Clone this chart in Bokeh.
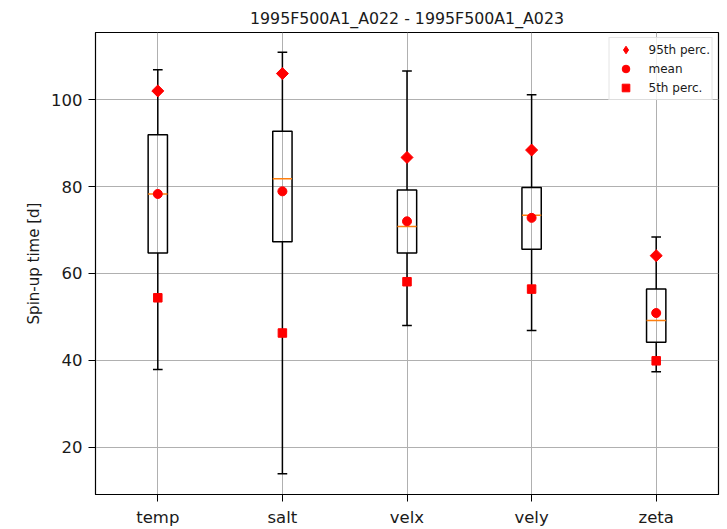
from bokeh.plotting import figure
from bokeh.models import Range1d, FixedTicker, Legend, LegendItem, ColumnDataSource
from bokeh.embed import file_html
from bokeh.resources import INLINE
import math

# ---- data ----
categories = ["temp", "salt", "velx", "vely", "zeta"]
whisker_high = [106.9, 110.9, 106.6, 101.1, 68.4]
q3 = [91.9, 92.7, 79.2, 79.8, 56.4]
median = [78.3, 81.8, 70.8, 73.4, 49.2]
q1 = [64.7, 67.3, 64.7, 65.6, 44.2]
whisker_low = [37.9, 13.9, 48.0, 46.9, 37.4]
perc95 = [102.0, 106.0, 86.7, 88.4, 64.1]
mean = [78.3, 78.9, 72.0, 72.8, 50.9]
perc5 = [54.4, 46.3, 58.1, 56.4, 39.9]
y_ticks = [20, 40, 60, 80, 100]

title = "1995F500A1_A022 - 1995F500A1_A023"
y_label = "Spin-up time [d]"

FONT = "DejaVu Sans"
box_w = 0.155
cap_w = box_w / 2

pos = list(range(1, len(categories) + 1))

p = figure(width=727, height=529, output_backend="svg", toolbar_location=None,
           x_range=Range1d(0.5, 5.5), y_range=Range1d(9.14, 115.45),
           min_border_left=95, min_border_right=9, min_border_top=32, min_border_bottom=34)

p.background_fill_color = "white"
p.border_fill_color = "white"
p.outline_line_color = "black"
p.outline_line_width = 1.2

# title
p.title.text = title
p.title.align = "center"
p.title.text_font = FONT
p.title.text_font_size = "15.8px"
p.title.text_font_style = "normal"
p.title.text_color = "#1a1a1a"
p.title.standoff = 9

# axes
for ax in (p.xaxis[0], p.yaxis[0]):
    ax.major_label_text_font = FONT
    ax.major_label_text_font_size = "16.5px"
    ax.major_label_text_color = "#1a1a1a"
    ax.major_tick_out = 7
    ax.major_tick_in = 0
    ax.minor_tick_out = 0
    ax.minor_tick_in = 0
    ax.axis_line_color = "black"
    ax.major_tick_line_color = "black"
    ax.major_label_standoff = 6

p.xaxis.ticker = FixedTicker(ticks=pos)
p.xaxis.major_label_overrides = {i: c for i, c in zip(pos, categories)}
p.yaxis.ticker = FixedTicker(ticks=y_ticks)
p.yaxis.axis_label = y_label
p.yaxis.axis_label_text_font = FONT
p.yaxis.axis_label_text_font_size = "15px"
p.yaxis.axis_label_text_font_style = "normal"
p.yaxis.axis_label_text_color = "#1a1a1a"
p.yaxis.axis_label_standoff = 5

p.xgrid.grid_line_color = "#b0b0b0"
p.ygrid.grid_line_color = "#b0b0b0"
p.xgrid.grid_line_width = 1
p.ygrid.grid_line_width = 1

src = ColumnDataSource(dict(
    x=pos, wh=whisker_high, q3=q3, med=median, q1=q1, wl=whisker_low,
    p95=perc95, mean=mean, p5=perc5,
    xl=[x - box_w / 2 for x in pos], xr=[x + box_w / 2 for x in pos],
    cl=[x - cap_w / 2 for x in pos], cr=[x + cap_w / 2 for x in pos],
))

# whiskers
p.segment(x0="x", y0="q3", x1="x", y1="wh", source=src, line_color="black", line_width=1.5)
p.segment(x0="x", y0="q1", x1="x", y1="wl", source=src, line_color="black", line_width=1.5)
# caps
p.segment(x0="cl", y0="wh", x1="cr", y1="wh", source=src, line_color="black", line_width=1.5)
p.segment(x0="cl", y0="wl", x1="cr", y1="wl", source=src, line_color="black", line_width=1.5)
# boxes
p.quad(left="xl", right="xr", top="q3", bottom="q1", source=src,
       fill_color=None, line_color="black", line_width=1.5)
# medians
p.segment(x0="xl", y0="med", x1="xr", y1="med", source=src, line_color="#ff7f0e", line_width=1.5)

# markers
# diamond used for the legend entry (fully covered in the plot by the rotated square)
r95_leg = p.scatter(x="x", y="p95", source=src, marker="diamond",
                    size=10.5, fill_color="red", line_color="red")
r95 = p.scatter(x="x", y="p95", source=src, marker="square", angle=math.pi / 4,
                size=8.5, fill_color="red", line_color="red")
rmean = p.scatter(x="x", y="mean", source=src, marker="circle",
                  size=9, fill_color="red", line_color="red")
r5 = p.scatter(x="x", y="p5", source=src, marker="square",
               size=8.5, fill_color="red", line_color="red")

legend = Legend(items=[
    LegendItem(label="95th perc.", renderers=[r95_leg]),
    LegendItem(label="mean", renderers=[rmean]),
    LegendItem(label="5th perc.", renderers=[r5]),
], location="top_right")
legend.label_text_font = FONT
legend.label_text_font_size = "12px"
legend.label_text_color = "#1a1a1a"
legend.label_height = 19
legend.glyph_height = 19
legend.glyph_width = 28
legend.spacing = 0
legend.padding = 2
legend.margin = 5
legend.label_standoff = 9
legend.border_line_color = "#cccccc"
legend.background_fill_alpha = 0.8
p.add_layout(legend)

open("out.html", "w").write(file_html(p, INLINE))
